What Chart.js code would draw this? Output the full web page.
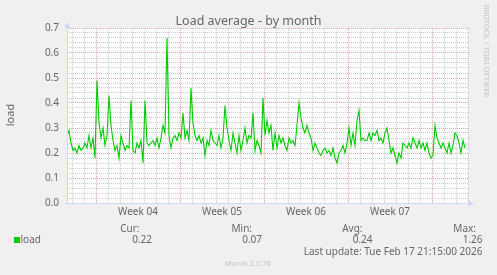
<!DOCTYPE html>
<html>
<head>
<meta charset="utf-8">
<title>Load average - by month</title>
<script src="https://cdn.jsdelivr.net/npm/chart.js@4.4.1/dist/chart.umd.min.js"></script>
<style>
html, body { margin: 0; padding: 0; background: #f0f0f0; }
#chart { display: block; }
</style>
</head>
<body>
<canvas id="chart" width="497" height="275"></canvas>
<script>
// --- Data (one sample every 4 hours) ---
const loadValues = [
    0.27, 0.29, 0.24, 0.21, 0.22, 0.20, 0.23, 0.21, 0.22, 0.24,
    0.22, 0.27, 0.22, 0.26, 0.18, 0.49, 0.32, 0.26, 0.30, 0.23,
    0.27, 0.43, 0.31, 0.25, 0.21, 0.23, 0.18, 0.27, 0.24, 0.21,
    0.23, 0.22, 0.41, 0.21, 0.20, 0.24, 0.22, 0.25, 0.16, 0.41,
    0.24, 0.23, 0.24, 0.25, 0.23, 0.26, 0.22, 0.26, 0.31, 0.28,
    0.66, 0.27, 0.22, 0.26, 0.27, 0.25, 0.28, 0.26, 0.36, 0.26,
    0.29, 0.25, 0.46, 0.32, 0.27, 0.25, 0.27, 0.24, 0.26, 0.19,
    0.25, 0.23, 0.29, 0.25, 0.24, 0.23, 0.27, 0.22, 0.26, 0.39,
    0.30, 0.25, 0.21, 0.28, 0.24, 0.20, 0.27, 0.21, 0.25, 0.30,
    0.24, 0.27, 0.26, 0.36, 0.21, 0.25, 0.23, 0.20, 0.42, 0.27,
    0.33, 0.28, 0.31, 0.21, 0.28, 0.22, 0.27, 0.24, 0.26, 0.23,
    0.21, 0.26, 0.24, 0.25, 0.23, 0.31, 0.40, 0.34, 0.30, 0.28,
    0.31, 0.28, 0.26, 0.21, 0.24, 0.22, 0.20, 0.19, 0.21, 0.22,
    0.20, 0.21, 0.19, 0.22, 0.18, 0.16, 0.20, 0.21, 0.23, 0.20,
    0.24, 0.30, 0.23, 0.28, 0.23, 0.33, 0.37, 0.25, 0.26, 0.25,
    0.25, 0.28, 0.25, 0.28, 0.27, 0.29, 0.25, 0.26, 0.24, 0.28,
    0.30, 0.25, 0.20, 0.22, 0.19, 0.16, 0.20, 0.18, 0.24, 0.23,
    0.22, 0.24, 0.22, 0.26, 0.24, 0.22, 0.25, 0.22, 0.24, 0.21,
    0.24, 0.20, 0.18, 0.19, 0.31, 0.26, 0.24, 0.22, 0.24, 0.22,
    0.20, 0.24, 0.20, 0.23, 0.28, 0.27, 0.24, 0.20, 0.25, 0.22
];
const sampleHours = 4;     // spacing of the samples
const axisEndHour = 802;   // graph span in hours

// x axis: week boundaries, week labels (hours from the left edge)
const weekStartHours = [58, 226, 394, 562, 730];
const weekLabelHours = [142, 310, 478, 646];
const weekLabels = ['Week 04', 'Week 05', 'Week 06', 'Week 07'];
const firstDayHour = 10;

// y axis
const yMax = 0.7;
const yMinorStep = 0.02;

// legend
const seriesName = 'load';
const statNames = ['Cur:', 'Min:', 'Avg:', 'Max:'];
const statValues = ['0.22', '0.07', '0.24', '1.26'];

const titleText = 'Load average - by month';
const yAxisText = 'load';
const lastUpdateText = 'Last update: Tue Feb 17 21:15:00 2026';
const footerText = 'Munin 2.0.76';
const sideText = 'RRDTOOL / TOBI OETIKER';

// --- Styles ---
const FONT = '"Noto Sans", "Open Sans", sans-serif';
const TEXT_COLOR = '#666666';
const AXIS_COLOR = '#cfd6f8';
const MINOR_GRID = 'rgba(170,170,170,0.6)';
const MAJOR_GRID = 'rgba(225,105,105,0.6)';
const LINE_COLOR = '#00cc00';

const isMajorY = v => Math.abs(v * 10 - Math.round(v * 10)) < 1e-6;
const isWeekLabel = v => weekLabelHours.includes(v);

/**
 * Background, axis lines, arrows and the rrdtool style text around the plot.
 */
const muninDecor = {
    id: 'muninDecor',
    beforeDraw(chart) {
        const { ctx, chartArea: a } = chart;
        ctx.save();
        ctx.fillStyle = '#f0f0f0';
        ctx.fillRect(0, 0, chart.width, chart.height);
        ctx.fillStyle = '#ffffff';
        ctx.fillRect(a.left, a.top, a.right - a.left, a.bottom - a.top);
        ctx.restore();
    },
    afterDraw(chart) {
        const { ctx, chartArea: a } = chart;
        ctx.save();

        // solid axis lines with arrows
        ctx.strokeStyle = AXIS_COLOR;
        ctx.lineWidth = 1;
        ctx.setLineDash([]);
        ctx.beginPath();
        ctx.moveTo(a.left + 0.5, a.bottom + 2);
        ctx.lineTo(a.left + 0.5, a.top - 1);
        ctx.moveTo(a.left - 2, a.bottom + 0.5);
        ctx.lineTo(a.right + 1, a.bottom + 0.5);
        ctx.stroke();

        ctx.fillStyle = AXIS_COLOR;
        ctx.beginPath();
        ctx.moveTo(a.left - 2.5, a.top);
        ctx.lineTo(a.left + 3.5, a.top);
        ctx.lineTo(a.left + 0.5, a.top - 6);
        ctx.closePath();
        ctx.fill();
        ctx.beginPath();
        ctx.moveTo(a.right, a.bottom - 2.5);
        ctx.lineTo(a.right, a.bottom + 3.5);
        ctx.lineTo(a.right + 6, a.bottom + 0.5);
        ctx.closePath();
        ctx.fill();

        // title
        ctx.fillStyle = TEXT_COLOR;
        ctx.textAlign = 'center';
        ctx.textBaseline = 'alphabetic';
        ctx.font = `12.5px ${FONT}`;
        ctx.fillText(titleText, 248.5, 25);

        // y axis title
        ctx.save();
        ctx.translate(11, 115);
        ctx.rotate(-Math.PI / 2);
        ctx.font = `11px ${FONT}`;
        ctx.textBaseline = 'middle';
        ctx.fillText(yAxisText, 0, 0);
        ctx.restore();

        // legend
        ctx.font = `10px ${FONT}`;
        ctx.textAlign = 'right';
        const nameRight = [139.5, 252, 362.5, 476];
        const valueRight = [152, 262, 372.5, 482.5];
        statNames.forEach((s, i) => ctx.fillText(s, nameRight[i], 232));
        statValues.forEach((s, i) => ctx.fillText(s, valueRight[i], 242.5));
        ctx.fillText(lastUpdateText, 482.5, 255);

        ctx.fillStyle = LINE_COLOR;
        ctx.fillRect(14, 237, 6, 6);
        ctx.fillStyle = TEXT_COLOR;
        ctx.textAlign = 'left';
        ctx.fillText(seriesName, 20.5, 242.5);

        // footer and side credit
        ctx.fillStyle = '#c4c4c4';
        ctx.textAlign = 'center';
        ctx.font = `7.5px ${FONT}`;
        ctx.fillText(footerText, 248, 265.5);

        ctx.save();
        ctx.translate(486.5, 51);
        ctx.rotate(Math.PI / 2);
        ctx.font = `7.7px ${FONT}`;
        ctx.textBaseline = 'middle';
        ctx.fillText(sideText, 0, 0);
        ctx.restore();

        ctx.restore();
    }
};

const ctx = document.getElementById('chart').getContext('2d');
new Chart(ctx, {
    type: 'line',
    data: {
        datasets: [{
            label: seriesName,
            data: loadValues.map((v, i) => ({ x: i * sampleHours, y: v })),
            borderColor: LINE_COLOR,
            borderWidth: 1.1,
            pointRadius: 0,
            tension: 0,
            fill: false,
        }]
    },
    options: {
        responsive: false,
        animation: false,
        events: [],
        layout: { padding: { top: 28, right: 29, left: 0, bottom: 0 } },
        plugins: {
            legend: { display: false },
            title: { display: false },
            tooltip: { enabled: false },
        },
        scales: {
            x: {
                type: 'linear',
                min: 0,
                max: axisEndHour,
                afterBuildTicks: scale => {
                    const ticks = [];
                    for (let h = firstDayHour; h <= axisEndHour; h += 24) ticks.push({ value: h });
                    weekLabelHours.forEach(h => ticks.push({ value: h }));
                    ticks.sort((p, q) => p.value - q.value);
                    scale.ticks = ticks;
                },
                afterFit: scale => { scale.height = 72; },
                ticks: {
                    autoSkip: false,
                    maxRotation: 0,
                    padding: 3,
                    color: TEXT_COLOR,
                    font: { family: FONT, size: 10 },
                    callback: v => isWeekLabel(v) ? weekLabels[weekLabelHours.indexOf(v)] : '',
                },
                grid: {
                    drawTicks: false,
                    lineWidth: 1,
                    color: c => {
                        const v = c.tick.value;
                        if (isWeekLabel(v)) return 'rgba(0,0,0,0)';
                        return weekStartHours.includes(v) ? MAJOR_GRID : MINOR_GRID;
                    },
                },
                border: { display: false, dash: [1, 1] },
            },
            y: {
                min: 0,
                max: yMax,
                afterFit: scale => { scale.width = 67; },
                ticks: {
                    stepSize: yMinorStep,
                    autoSkip: false,
                    padding: 8,
                    color: TEXT_COLOR,
                    font: { family: FONT, size: 10 },
                    callback: v => isMajorY(v) ? v.toFixed(1) : '',
                },
                grid: {
                    drawTicks: false,
                    lineWidth: 1,
                    color: c => {
                        const v = c.tick.value;
                        if (v === 0) return 'rgba(0,0,0,0)';
                        return isMajorY(v) ? MAJOR_GRID : MINOR_GRID;
                    },
                },
                border: { display: false, dash: [1, 1] },
            }
        }
    },
    plugins: [muninDecor]
});
</script>
</body>
</html>
